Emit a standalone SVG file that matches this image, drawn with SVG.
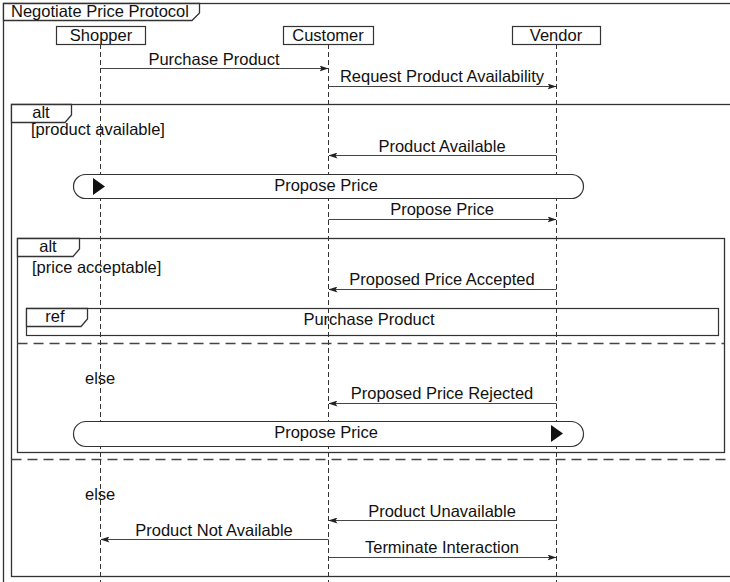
<svg xmlns="http://www.w3.org/2000/svg" width="730" height="582" viewBox="0 0 730 582">
  <style>
    text { font-family: "Liberation Sans", Arial, sans-serif; font-size: 16.5px; fill: #111; }
    .mid { text-anchor: middle; }
    .frame { fill: none; stroke: #333; stroke-width: 1.3; }
    .tab { fill: #fff; stroke: #333; stroke-width: 1.3; }
    .sep { fill: none; stroke: #444; stroke-width: 1.5; stroke-dasharray: 10 6; }
    .life { fill: none; stroke: #333; stroke-width: 1; stroke-dasharray: 5 3; }
    .head { fill: #fff; stroke: #333; stroke-width: 1.2; }
    .msg { fill: none; stroke: #444; stroke-width: 1.2; }
    .pill { fill: #fff; stroke: #333; stroke-width: 1.2; }
    .gate { fill: #111; }
  </style>
  <defs>
    <marker id="arrow" viewBox="0 0 9 6" refX="8.5" refY="3" markerWidth="9" markerHeight="6" markerUnits="userSpaceOnUse" orient="auto">
      <path d="M0,0 L9,3 L0,6 L2,3 Z" fill="#222"/>
    </marker>
  </defs>

  <rect width="730" height="582" fill="#fff"/>

  <!-- sd frame -->
  <g id="frame-negotiate">
    <rect class="frame" x="3.5" y="3.5" width="740" height="600"/>
    <path class="tab" d="M3.5,3.5 V20.5 H192 L199.5,13 V3.5 Z"/>
    <text x="11" y="17">Negotiate Price Protocol</text>
  </g>

  <!-- outer alt fragment -->
  <g id="alt-availability">
    <rect class="frame" x="11.5" y="104.5" width="740" height="472"/>
    <path class="tab" d="M11.5,104.5 V122.5 H65 L71.5,115 V104.5 Z"/>
    <text class="mid" x="41" y="118">alt</text>
    <text x="31" y="135">[product available]</text>
    <line class="sep" x1="11.5" y1="459.5" x2="730" y2="459.5"/>
    <text x="85" y="500">else</text>
  </g>

  <!-- inner alt fragment -->
  <g id="alt-price">
    <rect class="frame" x="17.5" y="238.5" width="707" height="214"/>
    <path class="tab" d="M17.5,238.5 V256.5 H73 L79.5,249 V238.5 Z"/>
    <text class="mid" x="48" y="252">alt</text>
    <text x="32" y="273">[price acceptable]</text>
    <line class="sep" x1="17.5" y1="343.5" x2="724" y2="343.5"/>
    <text x="85" y="384">else</text>
  </g>

  <!-- interaction use -->
  <g id="ref-purchase">
    <rect class="pill" x="26.5" y="308.5" width="692" height="27" rx="0"/>
    <path class="tab" d="M26.5,308.5 V326.5 H81 L87.5,319 V308.5 Z"/>
    <text class="mid" x="55" y="322">ref</text>
    <text class="mid" x="369" y="325">Purchase Product</text>
  </g>

  <!-- lifelines -->
  <g id="shopper">
    <line class="life" x1="100.5" y1="44" x2="100.5" y2="582"/>
    <rect class="head" x="56.5" y="26.5" width="89" height="18"/>
    <text class="mid" x="101" y="41">Shopper</text>
  </g>
  <g id="customer">
    <line class="life" x1="328.5" y1="44" x2="328.5" y2="582"/>
    <rect class="head" x="283.5" y="26.5" width="90" height="18"/>
    <text class="mid" x="328" y="41">Customer</text>
  </g>
  <g id="vendor">
    <line class="life" x1="556.5" y1="44" x2="556.5" y2="582" stroke="#666"/>
    <rect class="head" x="512.5" y="26.5" width="88" height="18"/>
    <text class="mid" x="556" y="41">Vendor</text>
  </g>

  <!-- continuation / gate bars -->
  <g id="propose-price-1">
    <rect class="pill" x="73.5" y="174.5" width="510" height="24" rx="12"/>
    <polygon class="gate" points="93,178 105,186.5 93,195"/>
    <text class="mid" x="326" y="191">Propose Price</text>
  </g>
  <g id="propose-price-2">
    <rect class="pill" x="73.5" y="421.5" width="510" height="25" rx="12.5"/>
    <polygon class="gate" points="551,425 563,433.5 551,442"/>
    <text class="mid" x="326" y="438">Propose Price</text>
  </g>

  <!-- messages -->
  <g id="connectors">
    <line class="msg" x1="100.5" y1="68.5" x2="328" y2="68.5" marker-end="url(#arrow)"/>
    <line class="msg" x1="328.5" y1="86.5" x2="556" y2="86.5" marker-end="url(#arrow)"/>
    <line class="msg" x1="556.5" y1="155.5" x2="329" y2="155.5" marker-end="url(#arrow)"/>
    <line class="msg" x1="328.5" y1="219.5" x2="556" y2="219.5" marker-end="url(#arrow)"/>
    <line class="msg" x1="556.5" y1="289.5" x2="329" y2="289.5" marker-end="url(#arrow)"/>
    <line class="msg" x1="556.5" y1="403.5" x2="329" y2="403.5" marker-end="url(#arrow)"/>
    <line class="msg" x1="556.5" y1="520.5" x2="329" y2="520.5" marker-end="url(#arrow)"/>
    <line class="msg" x1="328.5" y1="539.5" x2="101" y2="539.5" marker-end="url(#arrow)"/>
    <line class="msg" x1="328.5" y1="557.5" x2="556" y2="557.5" marker-end="url(#arrow)"/>
  </g>
  <g id="message-labels">
    <text class="mid" x="214" y="65">Purchase Product</text>
    <text class="mid" x="442" y="82">Request Product Availability</text>
    <text class="mid" x="442" y="152">Product Available</text>
    <text class="mid" x="442" y="215">Propose Price</text>
    <text class="mid" x="442" y="285">Proposed Price Accepted</text>
    <text class="mid" x="442" y="399">Proposed Price Rejected</text>
    <text class="mid" x="442" y="517">Product Unavailable</text>
    <text class="mid" x="214" y="536">Product Not Available</text>
    <text class="mid" x="442" y="553">Terminate Interaction</text>
  </g>
</svg>
